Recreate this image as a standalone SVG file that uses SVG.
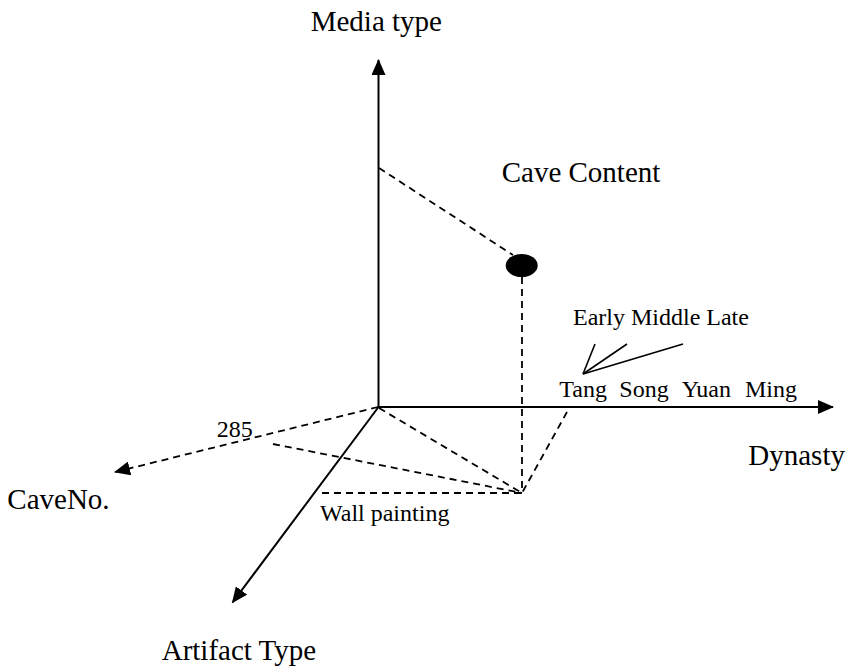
<svg xmlns="http://www.w3.org/2000/svg" width="849" height="669" viewBox="0 0 849 669">
  <style>
    .axis { stroke: #000; stroke-width: 2; fill: none; }
    .dash { stroke: #000; stroke-width: 1.8; fill: none; stroke-dasharray: 7 5; }
    .thin { stroke: #000; stroke-width: 1.6; fill: none; }
    .big { font-family: "Liberation Serif", "Times New Roman", serif; font-size: 29px; fill: #000; }
    .small { font-family: "Liberation Serif", "Times New Roman", serif; font-size: 24px; fill: #000; }
  </style>
  <defs>
    <marker id="arrow" viewBox="0 0 16 14" refX="15" refY="7" markerWidth="16" markerHeight="14" markerUnits="userSpaceOnUse" orient="auto">
      <path d="M0,0 L16,7 L0,14 z" fill="#000"/>
    </marker>
  </defs>

  <!-- axes and projection lines -->
  <g id="connectors">
    <line id="axis-media" class="axis" x1="378.5" y1="408" x2="378.5" y2="60" marker-end="url(#arrow)"/>
    <line id="axis-dynasty" class="axis" x1="377.5" y1="407" x2="833" y2="407" marker-end="url(#arrow)"/>
    <line id="axis-artifact" class="axis" x1="378.5" y1="407" x2="232.5" y2="602.5" marker-end="url(#arrow)"/>
    <line id="axis-caveno" class="dash" x1="378" y1="407" x2="115" y2="472" marker-end="url(#arrow)"/>

    <line class="dash" x1="379" y1="168" x2="513" y2="255"/>
    <line class="dash" x1="522" y1="277" x2="522" y2="493"/>
    <line class="dash" x1="379" y1="408" x2="522" y2="493"/>
    <line class="dash" x1="567" y1="412" x2="522" y2="493"/>
    <line class="dash" x1="273" y1="444" x2="522" y2="493"/>
    <line class="dash" x1="322" y1="493" x2="522" y2="493"/>

    <!-- period fan above Tang -->
    <line class="thin" x1="583" y1="374" x2="595" y2="344"/>
    <line class="thin" x1="583" y1="374" x2="627" y2="344"/>
    <line class="thin" x1="583" y1="374" x2="683" y2="344"/>
  </g>

  <g id="cave-content-point">
    <ellipse cx="521.7" cy="265.5" rx="16" ry="11.5" fill="#000"/>
  </g>

  <g id="label-media-type"><text class="big" x="310.7" y="30.7">Media type</text></g>
  <g id="label-cave-content"><text class="big" x="501.7" y="182.3">Cave Content</text></g>
  <g id="label-dynasty"><text class="big" x="748.3" y="465">Dynasty</text></g>
  <g id="label-caveno"><text class="big" x="7.3" y="509">CaveNo.</text></g>
  <g id="label-artifact-type"><text class="big" x="161.7" y="660">Artifact Type</text></g>

  <g id="label-periods"><text class="small" x="573" y="325">Early Middle Late</text></g>
  <g id="label-dynasties">
    <text class="small" x="559.3" y="397">Tang</text>
    <text class="small" x="619.3" y="397">Song</text>
    <text class="small" x="681.7" y="397">Yuan</text>
    <text class="small" x="745" y="397">Ming</text>
  </g>
  <g id="label-285"><text class="small" x="216.7" y="437">285</text></g>
  <g id="label-wall-painting"><text class="small" x="320" y="521">Wall painting</text></g>
</svg>
